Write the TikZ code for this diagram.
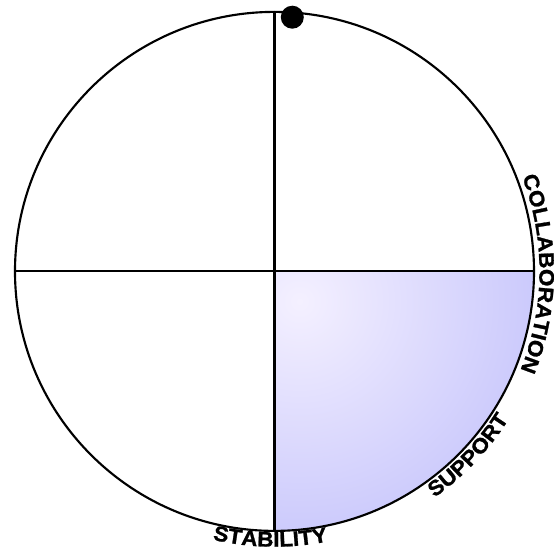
\documentclass[tikz,border=0pt]{standalone}
\usepackage{fontspec}
\setmainfont{Liberation Sans}
\newfontfamily\rimfont{Liberation Sans}[UprightFont=* Bold,FakeStretch=1.07,FakeBold=1.2]
\usetikzlibrary{decorations.text}
\definecolor{quadlight}{RGB}{244,240,255}
\definecolor{quadblue}{RGB}{178,178,250}

\begin{document}
\begin{tikzpicture}[x=0.75pt,y=0.75pt,line cap=round,
  rim/.style={line width=1.6pt},
  arclabel/.style={decorate,decoration={text along path,text align=center,
    text={|\rimfont\fontsize{15.8}{17}\selectfont|#1}}}]
\useasboundingbox (-274.5,-280.6) rectangle (279.5,271.4);
% shaded quadrant
\begin{scope}
\clip (0,0) -- (259.5,0) arc[start angle=0,end angle=-90,radius=259.5] -- cycle;
\shade[inner color=quadlight,outer color=quadblue] (25,-30) circle[radius=380];
\end{scope}
\draw[rim] (0,259.5) -- (0,-259.5);
\draw[rim] (-259.5,0) -- (259.5,0);
\draw[rim] (0,0) circle[radius=259.5];
\fill (17.8,254.2) circle[radius=11.5];
% labels round the rim
\path[arclabel=COLLABORATION] (29.5:265) arc[start angle=29.5,end angle=-30.5,radius=265];
\path[arclabel=SUPPORT] (-63.5:277) arc[start angle=-63.5,end angle=-23.5,radius=277];
\path[arclabel=STABILITY] (-120.9:275.3) arc[start angle=-120.9,end angle=-60.9,radius=275.3];
\end{tikzpicture}
\end{document}
